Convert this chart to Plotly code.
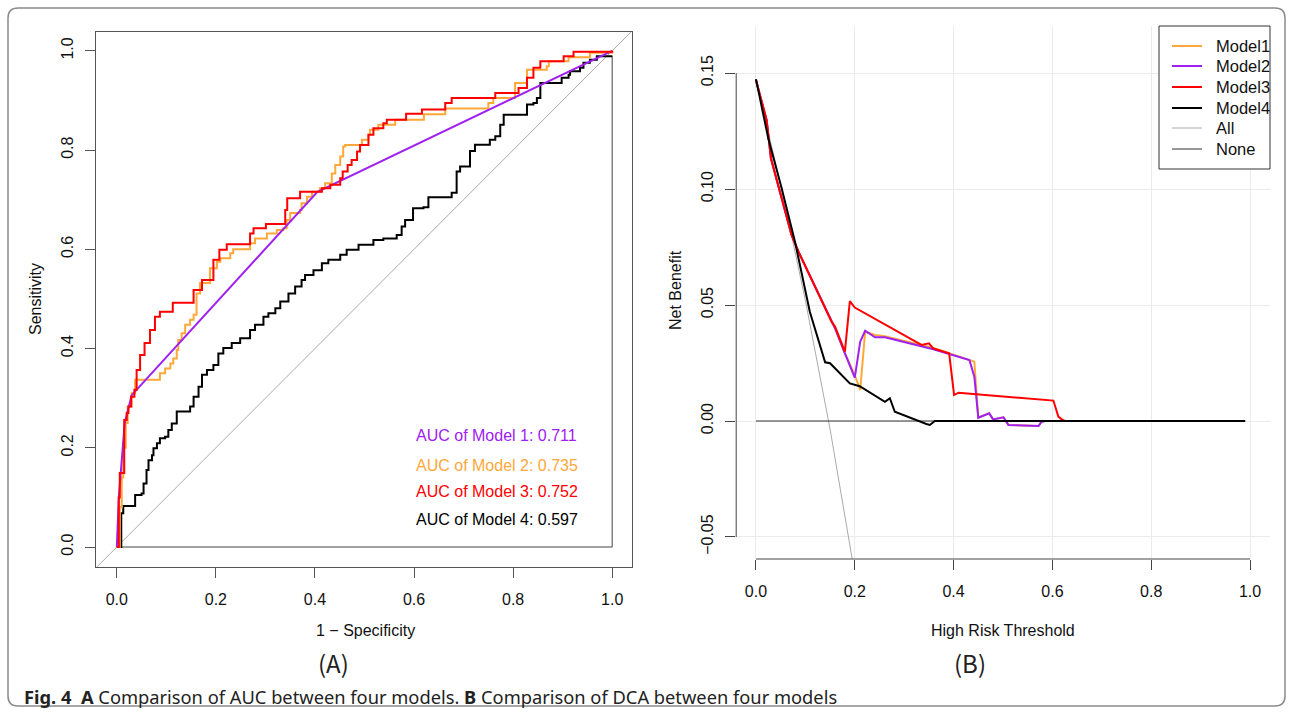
import plotly.graph_objects as go

W, H = 1292, 714

# ---------------- ROC data (1 - specificity, sensitivity) ----------------
roc_m1_x = [0.0, 0.004, 0.008, 0.016, 0.030, 0.405, 1.0]
roc_m1_y = [0.0, 0.10, 0.15, 0.25, 0.306, 0.716, 1.0]

roc_m2_x = [0.0, 0.006, 0.010, 0.013, 0.018, 0.022, 0.030, 0.037, 0.074, 0.087, 0.0975, 0.108, 0.114,
            0.121, 0.124, 0.131, 0.138, 0.148, 0.155, 0.161, 0.168, 0.188, 0.202, 0.209, 0.229, 0.235,
            0.266, 0.269, 0.279, 0.303, 0.323, 0.336, 0.343, 0.350, 0.370, 0.373, 0.384, 0.394, 0.410,
            0.4205, 0.434, 0.441, 0.451, 0.457, 0.461, 0.491, 0.495, 0.508, 0.511, 0.528, 0.558, 0.562,
            0.600, 0.620, 0.663, 0.750, 0.750, 0.760, 0.800, 0.804, 0.828, 0.868, 0.872, 0.912, 0.952,
            0.955, 1.0]
roc_m2_y = [0.0, 0.08, 0.14, 0.20, 0.25, 0.283, 0.31, 0.337, 0.337, 0.350, 0.360, 0.370, 0.380,
            0.397, 0.417, 0.431, 0.448, 0.458, 0.468, 0.511, 0.532, 0.562, 0.575, 0.582, 0.592, 0.600,
            0.600, 0.612, 0.622, 0.632, 0.639, 0.6425, 0.659, 0.673, 0.679, 0.693, 0.706, 0.716, 0.723,
            0.733, 0.753, 0.770, 0.787, 0.807, 0.810, 0.810, 0.821, 0.831, 0.841, 0.851, 0.851, 0.861,
            0.861, 0.872, 0.884, 0.884, 0.895, 0.905, 0.905, 0.935, 0.962, 0.969, 0.979, 0.987, 0.987,
            0.996, 1.0]

roc_m3_x = [0.0, 0.004, 0.006, 0.013, 0.015, 0.020, 0.0235, 0.029, 0.0355, 0.040, 0.047, 0.056, 0.067,
            0.077, 0.087, 0.097, 0.113, 0.155, 0.155, 0.172, 0.188, 0.195, 0.207, 0.222, 0.266, 0.269,
            0.276, 0.301, 0.336, 0.340, 0.344, 0.370, 0.407, 0.414, 0.431, 0.451, 0.456, 0.466, 0.474,
            0.485, 0.491, 0.508, 0.508, 0.518, 0.538, 0.545, 0.584, 0.584, 0.616, 0.616, 0.663, 0.663,
            0.676, 0.760, 0.764, 0.808, 0.811, 0.828, 0.841, 0.855, 0.898, 0.902, 0.922, 1.0]
roc_m3_y = [0.0, 0.10, 0.149, 0.149, 0.256, 0.270, 0.283, 0.303, 0.317, 0.357, 0.387, 0.411, 0.4375,
            0.464, 0.474, 0.474, 0.4925, 0.4925, 0.518, 0.538, 0.538, 0.579, 0.599, 0.610, 0.610, 0.632,
            0.6425, 0.651, 0.651, 0.679, 0.703, 0.716, 0.716, 0.723, 0.730, 0.743, 0.757, 0.770, 0.780,
            0.797, 0.810, 0.821, 0.831, 0.844, 0.854, 0.861, 0.862, 0.873, 0.873, 0.882, 0.882, 0.895,
            0.905, 0.905, 0.915, 0.915, 0.925, 0.946, 0.966, 0.979, 0.979, 0.989, 0.998, 1.0]

roc_m4_x = [0.0, 0.009, 0.013, 0.037, 0.050, 0.054, 0.060, 0.064, 0.071, 0.074, 0.081, 0.087, 0.0975,
            0.104, 0.111, 0.121, 0.141, 0.148, 0.155, 0.165, 0.172, 0.182, 0.195, 0.205, 0.215, 0.232,
            0.249, 0.269, 0.279, 0.296, 0.306, 0.320, 0.330, 0.3465, 0.360, 0.373, 0.380, 0.397, 0.414,
            0.427, 0.451, 0.464, 0.488, 0.518, 0.538, 0.565, 0.575, 0.582, 0.598, 0.619, 0.629, 0.676,
            0.676, 0.686, 0.686, 0.693, 0.710, 0.713, 0.723, 0.723, 0.750, 0.753, 0.764, 0.774, 0.774,
            0.781, 0.824, 0.828, 0.841, 0.848, 0.855, 0.895, 0.898, 0.912, 0.915, 0.935, 0.942, 0.955,
            0.969, 1.0]
roc_m4_y = [0.0, 0.068, 0.0827, 0.105, 0.108, 0.128, 0.155, 0.175, 0.185, 0.199, 0.209, 0.219, 0.222,
            0.236, 0.249, 0.273, 0.273, 0.283, 0.303, 0.323, 0.347, 0.357, 0.367, 0.390, 0.401, 0.411,
            0.421, 0.4375, 0.448, 0.464, 0.471, 0.481, 0.495, 0.511, 0.525, 0.538, 0.548, 0.558, 0.572,
            0.579, 0.589, 0.599, 0.609, 0.619, 0.622, 0.629, 0.646, 0.659, 0.683, 0.685, 0.705, 0.705,
            0.714, 0.717, 0.757, 0.767, 0.767, 0.798, 0.801, 0.811, 0.811, 0.821, 0.828, 0.832, 0.851,
            0.871, 0.871, 0.892, 0.895, 0.905, 0.935, 0.935, 0.946, 0.952, 0.959, 0.966, 0.976, 0.982,
            0.989, 0.989]

auc_labels = ["AUC of Model 1: 0.711", "AUC of Model 2: 0.735",
              "AUC of Model 3: 0.752", "AUC of Model 4: 0.597"]

# ---------------- DCA data (threshold, net benefit) ----------------
dca_m1_x = [0.0, 0.0216, 0.0304, 0.072, 0.086, 0.153, 0.160, 0.180, 0.200, 0.211, 0.221, 0.241, 0.261,
            0.359, 0.432, 0.442, 0.450, 0.472, 0.480, 0.501, 0.511, 0.572, 0.578, 0.585, 0.99]
dca_m1_y = [0.147, 0.1297, 0.1132, 0.0802, 0.073, 0.0428, 0.040, 0.0292, 0.0198, 0.0134, 0.0385, 0.0371,
            0.0365, 0.0315, 0.0266, 0.0256, 0.0014, 0.0033, 0.0007, 0.0016, -0.0017, -0.0022, -0.0003,
            0.0, 0.0]

dca_m2_x = [0.0, 0.0216, 0.0304, 0.072, 0.086, 0.153, 0.160, 0.180, 0.200, 0.211, 0.221, 0.241, 0.261,
            0.359, 0.432, 0.442, 0.450, 0.472, 0.480, 0.501, 0.511, 0.572, 0.578, 0.585, 0.99]
dca_m2_y = [0.147, 0.1297, 0.1132, 0.0802, 0.073, 0.0428, 0.040, 0.0292, 0.0187, 0.0342, 0.0389, 0.0361,
            0.0361, 0.0309, 0.0263, 0.0191, 0.0014, 0.0033, 0.0007, 0.0016, -0.0017, -0.0022, -0.0003,
            0.0, 0.0]

dca_m3_x = [0.0, 0.0216, 0.0304, 0.072, 0.086, 0.153, 0.160, 0.180, 0.190, 0.200, 0.335, 0.350, 0.359,
            0.391, 0.401, 0.410, 0.602, 0.612, 0.619, 0.625, 0.99]
dca_m3_y = [0.147, 0.1297, 0.1132, 0.0802, 0.073, 0.0428, 0.0407, 0.0299, 0.0517, 0.0489, 0.0328, 0.0335,
            0.0313, 0.0292, 0.0112, 0.0122, 0.0088, 0.0019, 0.0007, 0.0, 0.0]

dca_m4_x = [0.0, 0.025, 0.052, 0.079, 0.109, 0.140, 0.150, 0.190, 0.210, 0.261, 0.271, 0.281, 0.345,
            0.352, 0.362, 0.99]
dca_m4_y = [0.1474, 0.1218, 0.1003, 0.0773, 0.0471, 0.0253, 0.0249, 0.0162, 0.0150, 0.0083, 0.0098,
            0.0040, -0.0013, -0.0017, 0.0, 0.0]

dca_all_x = [0.0, 0.05, 0.10, 0.15, 0.20, 0.25]
dca_all_y = [0.147, 0.102, 0.052, -0.0035, -0.066, -0.137]

dca_none_x = [0.0, 0.99]
dca_none_y = [0.0, 0.0]

legend_names = ["Model1", "Model2", "Model3", "Model4", "All", "None"]

roc_ticks = [0.0, 0.2, 0.4, 0.6, 0.8, 1.0]
roc_ticktext = ["0.0", "0.2", "0.4", "0.6", "0.8", "1.0"]
dca_xticks = [0.0, 0.2, 0.4, 0.6, 0.8, 1.0]
dca_xticktext = ["0.0", "0.2", "0.4", "0.6", "0.8", "1.0"]
dca_yticks = [-0.05, 0.0, 0.05, 0.10, 0.15]
dca_yticktext = ["\u22120.05", "0.00", "0.05", "0.10", "0.15"]

PURPLE = "#A020F0"
ORANGE = "#FFA83A"
RED = "#FF0000"
BLACK = "#000000"
ALLC = "#AAAAAA"
NONEC = "#333333"
FONT = "Liberation Sans, Arial, sans-serif"


def px(x):
    return x / W


def py(y):
    return 1 - y / H


fig = go.Figure()

# ---- ROC panel ----
fig.add_trace(go.Scatter(x=[-0.2, 1.2], y=[-0.2, 1.2], mode="lines",
                         line=dict(color="#AAAAAA", width=1), showlegend=False,
                         xaxis="x", yaxis="y", hoverinfo="skip"))
fig.add_trace(go.Scatter(x=[0.0, 1.0, 1.0], y=[0.0, 0.0, 0.99], mode="lines",
                         line=dict(color="#444444", width=1), showlegend=False,
                         xaxis="x", yaxis="y", hoverinfo="skip"))
fig.add_trace(go.Scatter(x=roc_m4_x, y=roc_m4_y, mode="lines", line=dict(color=BLACK, width=2, shape="hv"),
                         showlegend=False, xaxis="x", yaxis="y"))
fig.add_trace(go.Scatter(x=roc_m2_x, y=roc_m2_y, mode="lines", line=dict(color=ORANGE, width=2, shape="hv"),
                         showlegend=False, xaxis="x", yaxis="y"))
fig.add_trace(go.Scatter(x=roc_m1_x, y=roc_m1_y, mode="lines", line=dict(color=PURPLE, width=2),
                         showlegend=False, xaxis="x", yaxis="y"))
fig.add_trace(go.Scatter(x=roc_m3_x, y=roc_m3_y, mode="lines", line=dict(color=RED, width=2, shape="hv"),
                         showlegend=False, xaxis="x", yaxis="y"))

# ---- DCA panel ----
fig.add_trace(go.Scatter(x=dca_all_x, y=dca_all_y, mode="lines", name="All",
                         line=dict(color=ALLC, width=1), xaxis="x2", yaxis="y2", showlegend=False))
fig.add_trace(go.Scatter(x=dca_none_x, y=dca_none_y, mode="lines", name="None",
                         line=dict(color=NONEC, width=1), xaxis="x2", yaxis="y2", showlegend=False))
fig.add_trace(go.Scatter(x=dca_m1_x, y=dca_m1_y, mode="lines", name="Model1",
                         line=dict(color=ORANGE, width=2), xaxis="x2", yaxis="y2", showlegend=False))
fig.add_trace(go.Scatter(x=dca_m2_x, y=dca_m2_y, mode="lines", name="Model2",
                         line=dict(color=PURPLE, width=2), xaxis="x2", yaxis="y2", showlegend=False))
fig.add_trace(go.Scatter(x=dca_m3_x, y=dca_m3_y, mode="lines", name="Model3",
                         line=dict(color=RED, width=2), xaxis="x2", yaxis="y2", showlegend=False))
fig.add_trace(go.Scatter(x=dca_m4_x, y=dca_m4_y, mode="lines", name="Model4",
                         line=dict(color=BLACK, width=2), xaxis="x2", yaxis="y2", showlegend=False))

tickfont = dict(family=FONT, size=16, color="#111111")

fig.update_layout(
    width=W, height=H, autosize=False,
    margin=dict(l=0, r=0, t=0, b=0),
    paper_bgcolor="white", plot_bgcolor="white",
    font=dict(family=FONT, size=16, color="#111111"),
    xaxis=dict(domain=[px(96), px(632)], range=[-0.042, 1.040], tickvals=roc_ticks, ticktext=roc_ticktext,
               ticks="outside", ticklen=10, tickcolor="#555555", showline=True, mirror=True,
               linecolor="#555555", linewidth=1, showgrid=False, zeroline=False, tickfont=tickfont,
               ticklabelstandoff=8, anchor="y", fixedrange=True),
    yaxis=dict(domain=[py(567), py(32)], range=[-0.0403, 1.038], tickvals=roc_ticks, ticktext=roc_ticktext,
               ticks="outside", ticklen=10, tickcolor="#555555", showline=True, mirror=True,
               linecolor="#555555", linewidth=1, showgrid=False, zeroline=False, tickfont=tickfont,
               tickangle=-90, ticklabelstandoff=6, anchor="x", fixedrange=True),
    xaxis2=dict(domain=[px(736.2), px(1269.8)], range=[-0.04, 1.04], tickvals=dca_xticks,
                ticktext=dca_xticktext, ticks="outside", ticklen=10, tickcolor="#444444", showline=False,
                showgrid=True, gridcolor="#EBEBEB", gridwidth=1, zeroline=False, tickfont=tickfont,
                ticklabelstandoff=8, anchor="y2", fixedrange=True),
    yaxis2=dict(domain=[py(559), py(26)], range=[-0.0595, 0.1703], tickvals=dca_yticks,
                ticktext=dca_yticktext, ticks="outside", ticklen=10, tickcolor="#444444", showline=False,
                showgrid=True, gridcolor="#EBEBEB", gridwidth=1, zeroline=False, tickfont=tickfont,
                tickangle=-90, ticklabelstandoff=6, anchor="x2", fixedrange=True),
    showlegend=False,
)

# DCA axis lines (span first to last tick, R style)
fig.add_shape(type="line", xref="x2", yref="y2 domain", x0=0.0, x1=1.0, y0=0, y1=0,
              line=dict(color="#444444", width=1))
fig.add_shape(type="line", xref="x2 domain", yref="y2", x0=0, x1=0, y0=-0.05, y1=0.15,
              line=dict(color="#444444", width=1))

# R-style legend box for the DCA panel
fig.add_shape(type="rect", xref="paper", yref="paper", x0=px(1159), x1=px(1270), y0=py(169), y1=py(26),
              line=dict(color="#333333", width=1), fillcolor="white", layer="above")
legend_colors = [ORANGE, PURPLE, RED, BLACK, ALLC, NONEC]
legend_widths = [2, 2, 2, 2, 1, 1]
legend_rows = [46, 66, 87, 108, 128, 149]
for name, col, lw, yy in zip(legend_names, legend_colors, legend_widths, legend_rows):
    fig.add_shape(type="line", xref="paper", yref="paper", x0=px(1172), x1=px(1202), y0=py(yy), y1=py(yy),
                  line=dict(color=col, width=lw), layer="above")
    fig.add_annotation(x=px(1214), y=py(yy), xref="paper", yref="paper", text=name, showarrow=False,
                       xanchor="left", yanchor="middle", font=dict(family=FONT, size=16.5, color="#111111"))

# Outer rounded frame
x0, y0, x1, y1, r = 8, 8, 1285, 706, 10
path = (f"M {px(x0 + r)} {py(y0)} L {px(x1 - r)} {py(y0)} Q {px(x1)} {py(y0)} {px(x1)} {py(y0 + r)} "
        f"L {px(x1)} {py(y1 - r)} Q {px(x1)} {py(y1)} {px(x1 - r)} {py(y1)} "
        f"L {px(x0 + r)} {py(y1)} Q {px(x0)} {py(y1)} {px(x0)} {py(y1 - r)} "
        f"L {px(x0)} {py(y0 + r)} Q {px(x0)} {py(y0)} {px(x0 + r)} {py(y0)} Z")
fig.add_shape(type="path", xref="paper", yref="paper", path=path, line=dict(color="#8A8A8A", width=1.5))

# AUC labels
auc_colors = [PURPLE, ORANGE, RED, BLACK]
auc_y = [0.224, 0.165, 0.111, 0.056]
for txt, col, yy in zip(auc_labels, auc_colors, auc_y):
    fig.add_annotation(x=0.600, y=yy, xref="x", yref="y", text=txt, showarrow=False,
                       xanchor="left", yanchor="middle", font=dict(family=FONT, size=16, color=col))

# Axis titles
ann = [
    dict(x=px(365), y=py(630), text="1 \u2212 Specificity", textangle=0),
    dict(x=px(35), y=py(299), text="Sensitivity", textangle=-90),
    dict(x=px(1003), y=py(630), text="High Risk Threshold", textangle=0),
    dict(x=px(675), y=py(290), text="Net Benefit", textangle=-90),
]
for a in ann:
    fig.add_annotation(xref="paper", yref="paper", showarrow=False, xanchor="center", yanchor="middle",
                       font=dict(family=FONT, size=16, color="#111111"), **a)

# Panel labels
for xx, t in [(333, "(A)"), (970, "(B)")]:
    fig.add_annotation(x=px(xx), y=py(662), xref="paper", yref="paper", text=t, showarrow=False,
                       xanchor="center", yanchor="middle",
                       font=dict(family="Noto Sans CJK SC, Noto Sans", size=24, color="#222222"))

# Caption
fig.add_annotation(x=px(22), y=py(696), xref="paper", yref="paper", showarrow=False, xanchor="left",
                   yanchor="middle",
                   text="<b>Fig. 4</b>  <b>A</b> Comparison of AUC between four models. "
                        "<b>B</b> Comparison of DCA between four models",
                   font=dict(family="Noto Sans, Open Sans, sans-serif", size=18.3, color="#222222"))

fig.write_html("out.html", config={"displayModeBar": False},
               post_script="document.body.style.margin='0px';document.body.style.padding='0px';"
                           "document.body.style.overflow='hidden';")
